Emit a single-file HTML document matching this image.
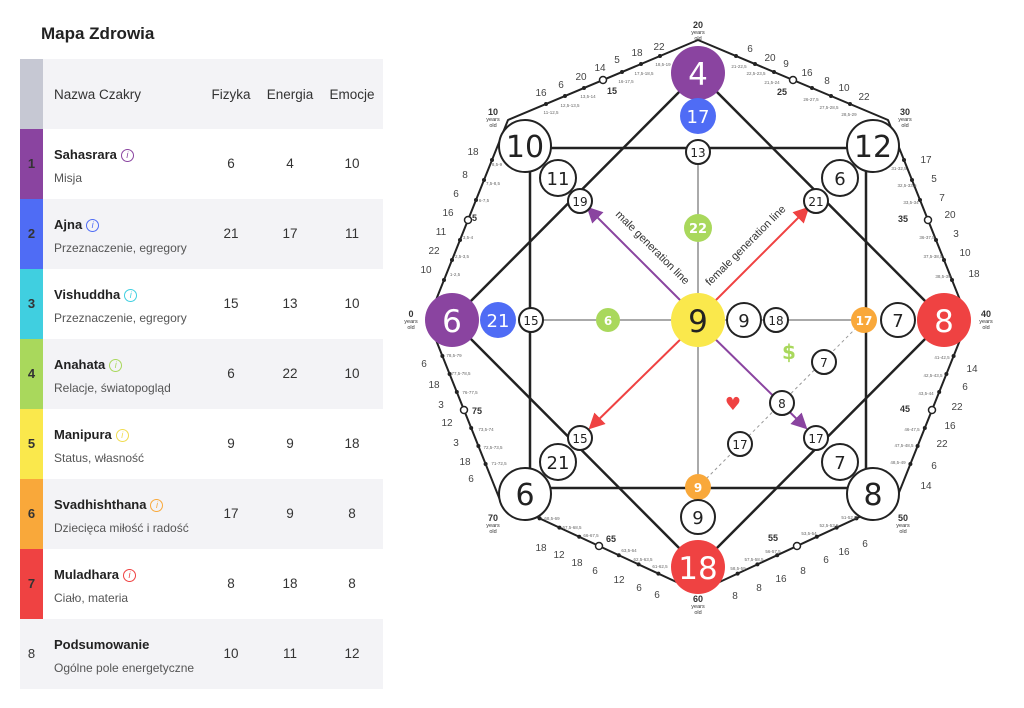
<!DOCTYPE html>
<html><head><meta charset="utf-8">
<style>
body{margin:0;width:1024px;height:708px;background:#fff;font-family:"Liberation Sans",sans-serif;position:relative;overflow:hidden;color:#222}
.t{position:absolute;left:41px;top:24px;font-size:17px;font-weight:bold;color:#222}
.row{position:absolute;left:20px;width:363px;height:70px}
.bar{position:absolute;left:0;top:0;width:23px;height:70px;font-size:13px;font-weight:bold;color:#333;text-align:center;line-height:70px}
.nm{position:absolute;left:34px;top:18px;font-size:13px;font-weight:bold;color:#222}
.sb{position:absolute;left:34px;top:42px;font-size:12px;color:#555}
.c{position:absolute;top:27px;font-size:13.5px;color:#333;width:40px;text-align:center}
.i{display:inline-block;width:11px;height:11px;border:1.2px solid;border-radius:50%;font-size:9px;line-height:11px;text-align:center;font-style:italic;font-weight:normal;margin-left:4px;vertical-align:1px}
svg{position:absolute;left:0;top:0}
</style></head><body>
<div class="t">Mapa Zdrowia</div>
<div class="row" style="top:59px;background:#f3f3f6"><div class="bar" style="background:#c6c8d3"></div>
<div style="position:absolute;left:34px;top:28px;font-size:13.5px;color:#333">Nazwa Czakry</div>
<div class="c" style="left:191px;top:28px">Fizyka</div><div class="c" style="left:245px;top:28px;width:50px">Energia</div><div class="c" style="left:307px;top:28px;width:50px">Emocje</div></div>

<div class="row" style="top:129px;background:#fff"><div class="bar" style="background:#8a44a0">1</div><div class="nm">Sahasrara<span class="i" style="color:#8a44a0">i</span></div><div class="sb">Misja</div><div class="c" style="left:191px">6</div><div class="c" style="left:250px">4</div><div class="c" style="left:312px">10</div></div>
<div class="row" style="top:199px;background:#f3f3f6"><div class="bar" style="background:#4f6cf5">2</div><div class="nm">Ajna<span class="i" style="color:#4f6cf5">i</span></div><div class="sb">Przeznaczenie, egregory</div><div class="c" style="left:191px">21</div><div class="c" style="left:250px">17</div><div class="c" style="left:312px">11</div></div>
<div class="row" style="top:269px;background:#fff"><div class="bar" style="background:#40cfe0">3</div><div class="nm">Vishuddha<span class="i" style="color:#40cfe0">i</span></div><div class="sb">Przeznaczenie, egregory</div><div class="c" style="left:191px">15</div><div class="c" style="left:250px">13</div><div class="c" style="left:312px">10</div></div>
<div class="row" style="top:339px;background:#f3f3f6"><div class="bar" style="background:#a9d85c">4</div><div class="nm">Anahata<span class="i" style="color:#a9d85c">i</span></div><div class="sb">Relacje, światopogląd</div><div class="c" style="left:191px">6</div><div class="c" style="left:250px">22</div><div class="c" style="left:312px">10</div></div>
<div class="row" style="top:409px;background:#fff"><div class="bar" style="background:#fae84c">5</div><div class="nm">Manipura<span class="i" style="color:#f0dc50">i</span></div><div class="sb">Status, własność</div><div class="c" style="left:191px">9</div><div class="c" style="left:250px">9</div><div class="c" style="left:312px">18</div></div>
<div class="row" style="top:479px;background:#f3f3f6"><div class="bar" style="background:#f9a83a">6</div><div class="nm">Svadhishthana<span class="i" style="color:#f9a83a">i</span></div><div class="sb">Dziecięca miłość i radość</div><div class="c" style="left:191px">17</div><div class="c" style="left:250px">9</div><div class="c" style="left:312px">8</div></div>
<div class="row" style="top:549px;background:#fff"><div class="bar" style="background:#ef4242">7</div><div class="nm">Muladhara<span class="i" style="color:#ef4242">i</span></div><div class="sb">Ciało, materia</div><div class="c" style="left:191px">8</div><div class="c" style="left:250px">18</div><div class="c" style="left:312px">8</div></div>
<div class="row" style="top:619px;background:#f3f3f6"><div class="bar" style="font-weight:normal">8</div><div class="nm">Podsumowanie</div><div class="sb">Ogólne pole energetyczne</div><div class="c" style="left:191px">10</div><div class="c" style="left:250px">11</div><div class="c" style="left:312px">12</div></div>

<svg width="1024" height="708" viewBox="0 0 1024 708" font-family="Liberation Sans, sans-serif">
<defs>
<marker id="ap" markerWidth="8" markerHeight="8" refX="7" refY="4" orient="auto"><path d="M0,0 L8,4 L0,8z" fill="#8a44a0"/></marker>
<marker id="ar" markerWidth="8" markerHeight="8" refX="7" refY="4" orient="auto"><path d="M0,0 L8,4 L0,8z" fill="#ef4242"/></marker>
</defs>
<g id="outline" fill="none" stroke="#222" stroke-width="2" stroke-linejoin="round">
<polygon points="698,40 508,120 428,320 500,500 698,592 896,500 968,320 888,120"/>
<rect x="530" y="148" width="336" height="340" stroke-width="2.5"/>
<polygon points="698,73 944,320 698,567 452,320" stroke-width="2.5"/>
<line x1="698" y1="152" x2="698" y2="487" stroke-width="1" stroke="#555"/>
<line x1="531" y1="320" x2="864" y2="320" stroke-width="1" stroke="#555"/>
<line x1="698" y1="487" x2="864" y2="320" stroke-width="1" stroke="#999" stroke-dasharray="3,3"/>
</g>
<g stroke-width="2">
<line x1="690" y1="310" x2="588" y2="208" stroke="#8a44a0" marker-end="url(#ap)"/>
<line x1="706" y1="310" x2="808" y2="208" stroke="#ef4242" marker-end="url(#ar)"/>
<line x1="690" y1="330" x2="590" y2="428" stroke="#ef4242" marker-end="url(#ar)"/>
<line x1="706" y1="330" x2="806" y2="428" stroke="#8a44a0" marker-end="url(#ap)"/>
</g>
<text transform="translate(650,250) rotate(45)" font-size="11" text-anchor="middle" fill="#333">male generation line</text>
<text transform="translate(748,248) rotate(-45)" font-size="11" text-anchor="middle" fill="#333">female generation line</text>
<g id="dots"></g>
<g stroke="#222" stroke-width="2" text-anchor="middle" font-family="DejaVu Sans, sans-serif">
<circle cx="698" cy="73" r="27" fill="#8a44a0" stroke="none"/><text x="698" y="85" font-size="31" fill="#fff" stroke="none">4</text>
<circle cx="698" cy="116" r="18" fill="#4f6cf5" stroke="none"/><text x="698" y="123" font-size="18" fill="#fff" stroke="none">17</text>
<circle cx="698" cy="152" r="12" fill="#fff"/><text x="698" y="157" font-size="12" fill="#222" stroke="none">13</text>
<circle cx="698" cy="228" r="14" fill="#a9d85c" stroke="none"/><text x="698" y="233" font-size="13" fill="#fff" stroke="none" font-weight="bold">22</text>
<circle cx="525" cy="146" r="26" fill="#fff"/><text x="525" y="157" font-size="30" fill="#222" stroke="none">10</text>
<circle cx="558" cy="178" r="18" fill="#fff"/><text x="558" y="185" font-size="18" fill="#222" stroke="none">11</text>
<circle cx="580" cy="201" r="12" fill="#fff"/><text x="580" y="206" font-size="12" fill="#222" stroke="none">19</text>
<circle cx="873" cy="146" r="26" fill="#fff"/><text x="873" y="157" font-size="30" fill="#222" stroke="none">12</text>
<circle cx="840" cy="178" r="18" fill="#fff"/><text x="840" y="185" font-size="18" fill="#222" stroke="none">6</text>
<circle cx="816" cy="201" r="12" fill="#fff"/><text x="816" y="206" font-size="12" fill="#222" stroke="none">21</text>
<circle cx="452" cy="320" r="27" fill="#8a44a0" stroke="none"/><text x="452" y="332" font-size="31" fill="#fff" stroke="none">6</text>
<circle cx="498" cy="320" r="18" fill="#4f6cf5" stroke="none"/><text x="498" y="327" font-size="18" fill="#fff" stroke="none">21</text>
<circle cx="531" cy="320" r="12" fill="#fff"/><text x="531" y="325" font-size="12" fill="#222" stroke="none">15</text>
<circle cx="608" cy="320" r="12" fill="#a9d85c" stroke="none"/><text x="608" y="325" font-size="12" fill="#fff" stroke="none" font-weight="bold">6</text>
<circle cx="698" cy="320" r="27" fill="#fae84c" stroke="none"/><text x="698" y="332" font-size="31" fill="#222" stroke="none">9</text>
<circle cx="744" cy="320" r="17" fill="#fff"/><text x="744" y="327" font-size="18" fill="#222" stroke="none">9</text>
<circle cx="776" cy="320" r="12" fill="#fff"/><text x="776" y="325" font-size="12" fill="#222" stroke="none">18</text>
<circle cx="864" cy="320" r="13" fill="#f9a83a" stroke="none"/><text x="864" y="325" font-size="12" fill="#fff" stroke="none" font-weight="bold">17</text>
<circle cx="898" cy="320" r="17" fill="#fff"/><text x="898" y="327" font-size="18" fill="#222" stroke="none">7</text>
<circle cx="944" cy="320" r="27" fill="#ef4242" stroke="none"/><text x="944" y="332" font-size="31" fill="#fff" stroke="none">8</text>
<text x="789" y="359" font-size="20" fill="#a9d85c" stroke="none" font-weight="bold">$</text>
<circle cx="824" cy="362" r="12" fill="#fff"/><text x="824" y="367" font-size="12" fill="#222" stroke="none">7</text>
<text x="733" y="410" font-size="18" fill="#ef4242" stroke="none">♥</text>
<circle cx="782" cy="403" r="12" fill="#fff"/><text x="782" y="408" font-size="12" fill="#222" stroke="none">8</text>
<circle cx="580" cy="438" r="12" fill="#fff"/><text x="580" y="443" font-size="12" fill="#222" stroke="none">15</text>
<circle cx="816" cy="438" r="12" fill="#fff"/><text x="816" y="443" font-size="12" fill="#222" stroke="none">17</text>
<circle cx="740" cy="444" r="12" fill="#fff"/><text x="740" y="449" font-size="12" fill="#222" stroke="none">17</text>
<circle cx="558" cy="462" r="18" fill="#fff"/><text x="558" y="469" font-size="18" fill="#222" stroke="none">21</text>
<circle cx="840" cy="462" r="18" fill="#fff"/><text x="840" y="469" font-size="18" fill="#222" stroke="none">7</text>
<circle cx="525" cy="494" r="26" fill="#fff"/><text x="525" y="505" font-size="30" fill="#222" stroke="none">6</text>
<circle cx="873" cy="494" r="26" fill="#fff"/><text x="873" y="505" font-size="30" fill="#222" stroke="none">8</text>
<circle cx="698" cy="487" r="13" fill="#f9a83a" stroke="none"/><text x="698" y="492" font-size="12" fill="#fff" stroke="none" font-weight="bold">9</text>
<circle cx="698" cy="517" r="17" fill="#fff"/><text x="698" y="524" font-size="18" fill="#222" stroke="none">9</text>
<circle cx="698" cy="567" r="27" fill="#ef4242" stroke="none"/><text x="698" y="579" font-size="31" fill="#fff" stroke="none">18</text>
</g>
<g font-size="10" fill="#444" text-anchor="middle">
<text x="541" y="96">16</text><text x="561" y="88">6</text><text x="581" y="80">20</text><text x="600" y="71">14</text><text x="617" y="63">5</text><text x="637" y="56">18</text><text x="659" y="50">22</text>
<text x="750" y="52">6</text><text x="770" y="61">20</text><text x="786" y="67">9</text><text x="807" y="76">16</text><text x="827" y="84">8</text><text x="844" y="91">10</text><text x="864" y="100">22</text>
<text x="926" y="163">17</text><text x="934" y="182">5</text><text x="942" y="201">7</text><text x="950" y="218">20</text><text x="956" y="237">3</text><text x="965" y="256">10</text><text x="974" y="277">18</text>
<text x="473" y="155">18</text><text x="465" y="178">8</text><text x="456" y="197">6</text><text x="448" y="216">16</text><text x="441" y="235">11</text><text x="434" y="254">22</text><text x="426" y="273">10</text>
<text x="424" y="367">6</text><text x="434" y="388">18</text><text x="441" y="408">3</text><text x="447" y="426">12</text><text x="456" y="446">3</text><text x="465" y="465">18</text><text x="471" y="482">6</text>
<text x="972" y="372">14</text><text x="965" y="390">6</text><text x="957" y="410">22</text><text x="950" y="429">16</text><text x="942" y="447">22</text><text x="934" y="469">6</text><text x="926" y="489">14</text>
<text x="541" y="551">18</text><text x="559" y="558">12</text><text x="577" y="566">18</text><text x="595" y="574">6</text><text x="619" y="583">12</text><text x="639" y="591">6</text><text x="657" y="598">6</text>
<text x="735" y="599">8</text><text x="759" y="591">8</text><text x="781" y="582">16</text><text x="803" y="574">8</text><text x="826" y="563">6</text><text x="844" y="555">16</text><text x="865" y="547">6</text>
</g>
<g font-size="4.5" fill="#666" text-anchor="middle">
<text x="551" y="114">11-12,5</text><text x="570" y="107">12,5-13,5</text><text x="588" y="98">13,5-14</text><text x="626" y="83">16-17,5</text><text x="644" y="75">17,5-18,5</text><text x="663" y="66">18,5-19</text>
<text x="739" y="68">21-22,5</text><text x="756" y="75">22,5-23,5</text><text x="772" y="84">21,5-24</text><text x="811" y="101">26-27,5</text><text x="829" y="109">27,5-28,5</text><text x="849" y="116">28,5-29</text>
<text x="899" y="170">31-32,5</text><text x="907" y="187">32,5-33,5</text><text x="911" y="204">33,5-34</text><text x="927" y="239">36-37,5</text><text x="933" y="258">37,5-38,5</text><text x="943" y="278">38,5-39</text>
<text x="497" y="166">8,5-9</text><text x="493" y="185">7,5-8,5</text><text x="484" y="202">6-7,5</text><text x="468" y="239">3,5-4</text><text x="462" y="258">2,5-3,5</text><text x="455" y="276">1-2,5</text>
<text x="454" y="357">78,5-79</text><text x="461" y="375">77,5-78,5</text><text x="470" y="394">76-77,5</text><text x="486" y="431">73,5-74</text><text x="493" y="449">72,5-73,5</text><text x="499" y="465">71-72,5</text>
<text x="942" y="359">41-42,5</text><text x="933" y="377">42,5-43,5</text><text x="926" y="395">43,5-44</text><text x="912" y="431">46-47,5</text><text x="904" y="447">47,5-48,5</text><text x="898" y="464">48,5-49</text>
<text x="552" y="520">68,5-69</text><text x="572" y="529">67,5-68,5</text><text x="591" y="537">66-67,5</text><text x="629" y="552">63,5-64</text><text x="643" y="561">62,5-63,5</text><text x="660" y="568">61-62,5</text>
<text x="738" y="570">58,5-59</text><text x="754" y="561">57,5-58,5</text><text x="773" y="553">56-57,5</text><text x="809" y="535">53,5-54</text><text x="829" y="527">52,5-53,5</text><text x="849" y="519">51-52,5</text>
</g>
<g fill="#333" text-anchor="middle" font-weight="bold">
<g font-size="9"><text x="698" y="28">20</text><text x="493" y="115">10</text><text x="905" y="115">30</text><text x="411" y="317">0</text><text x="986" y="317">40</text><text x="493" y="521">70</text><text x="903" y="521">50</text><text x="698" y="602">60</text></g>
<g font-size="5.5" font-weight="normal"><text x="698" y="34">years</text><text x="698" y="40">old</text><text x="493" y="121">years</text><text x="493" y="127">old</text><text x="905" y="121">years</text><text x="905" y="127">old</text><text x="411" y="323">years</text><text x="411" y="329">old</text><text x="986" y="323">years</text><text x="986" y="329">old</text><text x="493" y="527">years</text><text x="493" y="533">old</text><text x="903" y="527">years</text><text x="903" y="533">old</text><text x="698" y="608">years</text><text x="698" y="614">old</text></g>
<g font-size="9" text-anchor="start"><text x="607" y="94">15</text><text x="777" y="95">25</text><text x="898" y="222">35</text><text x="472" y="221">5</text><text x="472" y="414">75</text><text x="900" y="412">45</text><text x="606" y="542">65</text><text x="768" y="541">55</text></g>
</g>
</svg>
<script>
var V=[[698,40],[508,120],[428,320],[500,500],[698,592],[896,500],[968,320],[888,120]];
var s='';
for(var i=0;i<8;i++){var a=V[i],b=V[(i+1)%8];for(var k=-3;k<=3;k++){var t=0.5+k*0.1;var x=a[0]+(b[0]-a[0])*t,y=a[1]+(b[1]-a[1])*t;
s+=k==0?'<circle cx="'+x+'" cy="'+y+'" r="3.5" fill="#fff" stroke="#222" stroke-width="1.5"/>':'<circle cx="'+x+'" cy="'+y+'" r="2" fill="#222"/>';}}
document.getElementById('dots').innerHTML=s;
</script>
</body></html>
